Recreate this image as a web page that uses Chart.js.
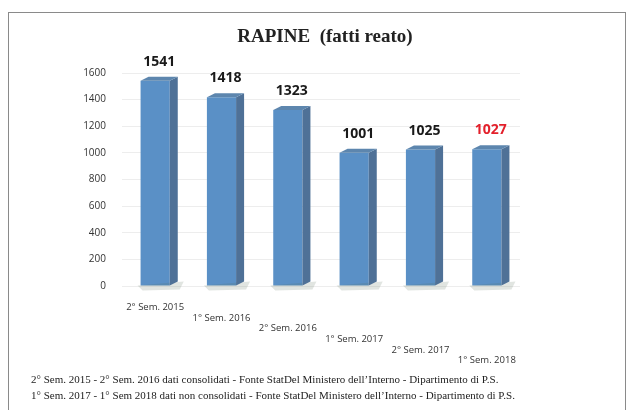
<!DOCTYPE html>
<html>
<head>
<meta charset="utf-8">
<script src="https://cdn.jsdelivr.net/npm/chart.js@4"></script>
<style>
  html, body { margin: 0; padding: 0; background: #fff; width: 629px; height: 410px; overflow: hidden; }
  #frame { position: absolute; left: 8px; top: 12px; width: 618px; height: 410px; border: 1px solid #8a8a8a; border-bottom: none; box-sizing: border-box; }
  #wrap { position: absolute; left: 0; top: 0; width: 629px; height: 410px; }
  #title { position: absolute; left: 0; width: 650px; top: 25px; text-align: center; font-family: "Liberation Serif", "DejaVu Serif", serif; font-weight: bold; font-size: 19px; color: #222; white-space: pre; }
  .note { position: absolute; left: 31px; font-family: "Liberation Serif", "DejaVu Serif", serif; font-size: 11px; color: #222; white-space: nowrap; }
</style>
</head>
<body>
<div id="frame"></div>
<div id="wrap"><canvas id="c" width="629" height="410"></canvas></div>
<div id="title">RAPINE  (fatti reato)</div>
<div class="note" style="top:373px;">2° Sem. 2015 - 2° Sem. 2016 dati consolidati - Fonte StatDel Ministero dell’Interno - Dipartimento di P.S.</div>
<div class="note" style="top:389px;">1° Sem. 2017 - 1° Sem 2018 dati non consolidati - Fonte StatDel Ministero dell’Interno - Dipartimento di P.S.</div>
<script>
const categories = ["2° Sem. 2015", "1° Sem. 2016", "2° Sem. 2016", "1° Sem. 2017", "2° Sem. 2017", "1° Sem. 2018"];
const rapine = [1541, 1418, 1323, 1001, 1025, 1027];
const yTicks = [0, 200, 400, 600, 800, 1000, 1200, 1400, 1600];
const labelColors = ["#1a1a1a", "#1a1a1a", "#1a1a1a", "#1a1a1a", "#1a1a1a", "#e3202b"];

// staggered category labels (each one a line lower)
const staggered = categories.map((c, i) => Array(i).fill("").concat([c]));

const bar3d = {
  id: "bar3d",
  afterDatasetsDraw(chart) {
    const ctx = chart.ctx;
    const meta = chart.getDatasetMeta(0);
    const d = 8, dy = 4;
    meta.data.forEach((bar, i) => {
      const p = bar.getProps(["x", "y", "base", "width"], true);
      const l = p.x - p.width / 2, r = p.x + p.width / 2;
      ctx.save();
      // base shadow
      ctx.fillStyle = "rgba(90,110,90,0.18)";
      ctx.beginPath();
      ctx.moveTo(l - 3, p.base);
      ctx.lineTo(r + d + 6, p.base - dy);
      ctx.lineTo(r + d + 2, p.base + 4);
      ctx.lineTo(l + 2, p.base + 5);
      ctx.closePath();
      ctx.fill();
      // side face
      ctx.fillStyle = "#4f7197";
      ctx.beginPath();
      ctx.moveTo(r, p.y);
      ctx.lineTo(r + d, p.y - dy);
      ctx.lineTo(r + d, p.base - dy);
      ctx.lineTo(r, p.base);
      ctx.closePath();
      ctx.fill();
      // top face
      ctx.fillStyle = "#5d86ae";
      ctx.beginPath();
      ctx.moveTo(l, p.y);
      ctx.lineTo(l + d, p.y - dy);
      ctx.lineTo(r + d, p.y - dy);
      ctx.lineTo(r, p.y);
      ctx.closePath();
      ctx.fill();
      // value label
      ctx.fillStyle = labelColors[i];
      ctx.font = "bold 14px 'Open Sans', 'Liberation Sans', sans-serif";
      ctx.textAlign = "center";
      ctx.textBaseline = "middle";
      ctx.fillText(String(rapine[i]), p.x + 4, p.y - 19);
      ctx.restore();
    });
  }
};

new Chart(document.getElementById("c"), {
  type: "bar",
  data: {
    labels: staggered,
    datasets: [{
      data: rapine,
      backgroundColor: "#5a90c6",
      borderWidth: 0,
      barPercentage: 0.44,
      categoryPercentage: 1
    }]
  },
  plugins: [bar3d],
  options: {
    responsive: false,
    animation: false,
    layout: { padding: { left: 0, right: 109, top: 73, bottom: 0 } },
    plugins: {
      legend: { display: false },
      tooltip: { enabled: false },
      title: { display: false }
    },
    scales: {
      x: {
        grid: { display: false, drawTicks: false },
        border: { display: false },
        ticks: {
          color: "#333",
          font: { family: "'Open Sans', 'Liberation Sans', sans-serif", size: 9.5, lineHeight: 1.12 },
          padding: 16,
          maxRotation: 0,
          autoSkip: false
        },
        afterFit(s) { s.height = 124; }
      },
      y: {
        min: 0,
        max: 1600,
        afterBuildTicks(s) { s.ticks = yTicks.map(v => ({ value: v })); },
        grid: { color: "rgba(0,0,0,0.07)", drawTicks: false },
        border: { display: false },
        ticks: {
          color: "#333",
          font: { family: "'Open Sans', 'Liberation Sans', sans-serif", size: 10 },
          padding: 16,
          callback: (v) => String(v)
        },
        afterFit(s) { s.width = 122; }
      }
    }
  }
});
</script>
</body>
</html>
